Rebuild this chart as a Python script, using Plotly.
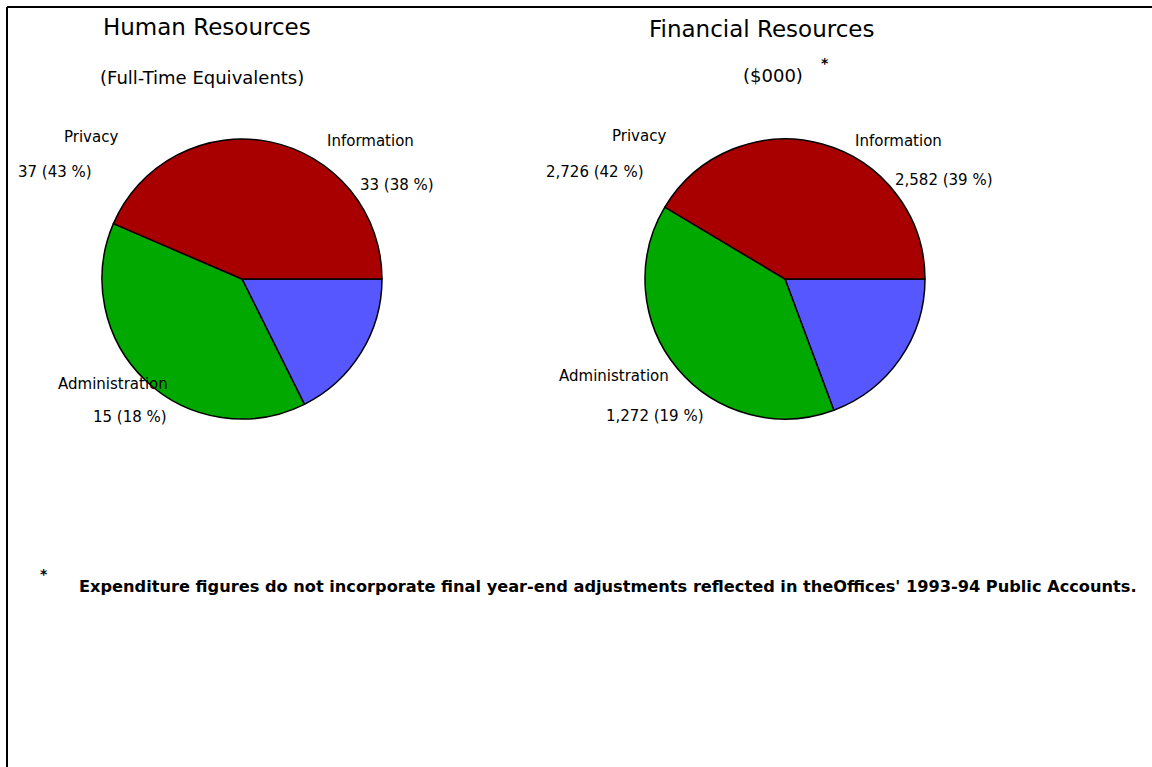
import plotly.graph_objects as go

W, H = 1152, 767

categories = ["Privacy", "Information", "Administration"]
hr_values = [37, 33, 15]
fin_values = [2726, 2582, 1272]
hr_text = ["37 (43 %)", "33 (38 %)", "15 (18 %)"]
fin_text = ["2,726 (42 %)", "2,582 (39 %)", "1,272 (19 %)"]
colors = ["#A80000", "#00A800", "#5757FF"]

FONT = "DejaVu Sans, Liberation Sans, Arial, sans-serif"


def px(x):
    return x / W


def py(y):
    return 1 - y / H


def dom(cx, cy, r):
    return dict(x=[px(cx - r), px(cx + r)], y=[py(cy + r), py(cy - r)])


fig = go.Figure()
for vals, (cx, cy) in [(hr_values, (242, 279)), (fin_values, (785, 279))]:
    # drawn clockwise from 3 o'clock in reversed order == counterclockwise in original order
    fig.add_trace(go.Pie(
        labels=categories[::-1], values=vals[::-1], sort=False,
        direction="clockwise", rotation=90,
        marker=dict(colors=colors[::-1], line=dict(color="black", width=1.5)),
        textinfo="none", hoverinfo="label+value+percent",
        domain=dom(cx, cy, 140), showlegend=False,
    ))

ann = []


def txt(x, y, s, size, anchor="center"):
    ann.append(dict(x=px(x), y=py(y), xref="paper", yref="paper", text=s,
                    showarrow=False, xanchor=anchor, yanchor="middle",
                    font=dict(family=FONT, size=size, color="black")))


# titles
txt(207, 27, "Human Resources", 23)
txt(202, 78, "(Full-Time Equivalents)", 18)
txt(762, 29, "Financial Resources", 23)
txt(773, 75, "($000)", 18)
txt(825, 63, "<b>*</b>", 14)

# left pie labels
hr_pos = [((91, 137), (55, 172)), ((370, 141), (397, 185)), ((113, 384), (130, 417))]
for name, t, (p1, p2) in zip(categories, hr_text, hr_pos):
    txt(p1[0], p1[1], name, 15)
    txt(p2[0], p2[1], t, 15)

fin_pos = [((639, 136), (595, 172)), ((898, 141), (944, 180)), ((614, 376), (655, 416))]
for name, t, (p1, p2) in zip(categories, fin_text, fin_pos):
    txt(p1[0], p1[1], name, 15)
    txt(p2[0], p2[1], t, 15)

# footnote
txt(44, 574, "<b>*</b>", 14)
txt(77, 586, "<b>Expenditure figures do not incorporate final year-end adjustments reflected in theOffices' 1993-94 Public Accounts.</b>",
    16.2, anchor="left")

fig.update_layout(
    width=W, height=H, margin=dict(l=0, r=0, t=0, b=0),
    paper_bgcolor="white", plot_bgcolor="white",
    annotations=ann,
    shapes=[
        dict(type="line", xref="paper", yref="paper", x0=px(7), x1=1.0, y0=py(7), y1=py(7),
             line=dict(color="black", width=2)),
        dict(type="line", xref="paper", yref="paper", x0=px(7), x1=px(7), y0=py(7), y1=0,
             line=dict(color="black", width=2)),
    ],
)

fig.write_html("out.html")
